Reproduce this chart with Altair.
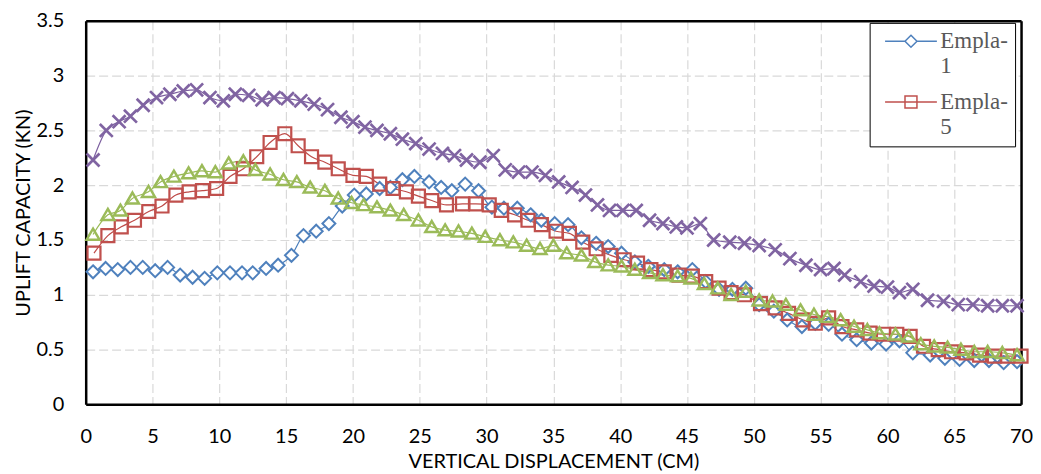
import altair as alt
import pandas as pd

SERIES = ["Empla-1", "Empla-5", "Empla-9", "Empla-13"]

X1 = [0.55, 1.49, 2.4, 3.35, 4.27, 5.2, 6.13, 7.07, 8.0, 8.9, 9.85, 10.8, 11.7, 12.5, 13.5, 14.4, 15.4, 16.3, 17.25, 18.2,
      19.2, 20.1, 21.0, 22.0, 22.8, 23.7, 24.6, 25.7, 26.6, 27.4, 28.4, 29.4, 30.4, 31.3, 32.3, 33.3, 34.1, 35.1, 36.1,
      37.1, 38.2, 39.1, 40.1, 41.1, 42.1, 43.3, 44.3, 45.4, 46.4, 47.4, 48.4, 49.4, 50.4, 51.5, 52.5, 53.6, 54.6, 55.6,
      56.6, 57.7, 58.8, 59.9, 60.9, 61.9, 63.2, 64.3, 65.4, 66.5, 67.6, 68.7, 69.7]
Y1 = [1.21, 1.24, 1.23, 1.25, 1.25, 1.22, 1.25, 1.18, 1.16, 1.15, 1.20, 1.20, 1.20, 1.20, 1.24, 1.27, 1.36, 1.54, 1.58, 1.65,
      1.81, 1.91, 1.92, 1.97, 1.98, 2.05, 2.08, 2.03, 1.98, 1.95, 2.01, 1.95, 1.80, 1.79, 1.79, 1.73, 1.68, 1.65, 1.64,
      1.52, 1.47, 1.44, 1.38, 1.30, 1.26, 1.23, 1.21, 1.23, 1.12, 1.05, 1.05, 1.06, 0.91, 0.85, 0.77, 0.71, 0.74, 0.73,
      0.64, 0.59, 0.56, 0.55, 0.58, 0.47, 0.45, 0.42, 0.41, 0.40, 0.40, 0.38, 0.39]

X5 = [0.62, 1.66, 2.66, 3.65, 4.72, 5.71, 6.75, 7.74, 8.74, 9.8, 10.8, 11.8, 12.8, 13.8, 14.9, 15.9, 16.9, 17.9, 18.9, 20.0,
      21.0, 22.0, 23.0, 24.0, 24.9, 25.9, 27.0, 28.2, 29.2, 30.2, 31.1, 32.1, 33.1, 34.1, 35.2, 36.2, 37.2, 38.2, 39.3,
      40.3, 41.3, 42.3, 43.3, 44.4, 45.4, 46.4, 47.4, 48.3, 49.3, 50.5, 51.6, 52.6, 53.7, 54.6, 55.6, 56.6, 57.7, 58.7,
      59.7, 60.7, 61.7, 62.7, 63.8, 64.8, 65.9, 66.9, 68.0, 69.0, 70.0]
Y5 = [1.38, 1.54, 1.62, 1.68, 1.76, 1.81, 1.91, 1.94, 1.95, 1.97, 2.08, 2.15, 2.26, 2.39, 2.47, 2.36, 2.26, 2.21, 2.15, 2.09,
      2.08, 2.01, 1.97, 1.94, 1.90, 1.86, 1.82, 1.83, 1.83, 1.82, 1.77, 1.73, 1.68, 1.64, 1.58, 1.56, 1.48, 1.42, 1.36,
      1.32, 1.29, 1.23, 1.21, 1.18, 1.17, 1.12, 1.06, 1.02, 1.00, 0.92, 0.88, 0.83, 0.77, 0.74, 0.79, 0.71, 0.68, 0.65,
      0.64, 0.64, 0.62, 0.53, 0.50, 0.48, 0.47, 0.45, 0.44, 0.44, 0.44]

X9 = [0.55, 1.66, 2.6, 3.5, 4.7, 5.6, 6.6, 7.7, 8.7, 9.7, 10.7, 11.8, 12.7, 13.8, 14.8, 15.8, 16.8, 17.9, 18.9, 19.9,
      20.8, 21.8, 22.8, 23.8, 24.9, 25.9, 26.9, 27.9, 28.9, 29.9, 31.0, 32.0, 33.0, 34.0, 35.0, 36.0, 37.1, 38.1, 39.1,
      40.1, 41.1, 42.2, 43.2, 44.3, 45.3, 46.3, 47.3, 48.3, 49.4, 50.4, 51.4, 52.4, 53.5, 54.5, 55.5, 56.5, 57.5, 58.5,
      59.4, 60.6, 61.6, 62.5, 63.5, 64.5, 65.5, 66.5, 67.5, 68.6, 69.7]
Y9 = [1.55, 1.73, 1.77, 1.88, 1.94, 2.03, 2.08, 2.11, 2.13, 2.12, 2.20, 2.22, 2.14, 2.10, 2.05, 2.03, 1.98, 1.95, 1.88, 1.84,
      1.82, 1.80, 1.77, 1.73, 1.68, 1.62, 1.59, 1.58, 1.56, 1.53, 1.50, 1.48, 1.45, 1.42, 1.45, 1.38, 1.36, 1.30, 1.27,
      1.26, 1.23, 1.20, 1.18, 1.17, 1.15, 1.10, 1.06, 1.00, 1.03, 0.95, 0.94, 0.91, 0.86, 0.82, 0.80, 0.77, 0.71, 0.68,
      0.65, 0.64, 0.62, 0.55, 0.53, 0.52, 0.50, 0.48, 0.48, 0.47, 0.45]

X13 = [0.55, 1.54, 2.5, 3.35, 4.3, 5.3, 6.3, 7.3, 8.3, 9.3, 10.3, 11.2, 12.2, 13.2, 14.1, 15.1, 16.1, 17.1, 18.1, 19.1,
       20.0, 20.9, 21.8, 22.8, 23.7, 24.7, 25.7, 26.7, 27.6, 28.5, 29.5, 30.5, 31.4, 32.4, 33.4, 34.4, 35.4, 36.4, 37.4,
       38.3, 39.2, 40.2, 41.2, 42.2, 43.2, 44.2, 45.0, 46.0, 47.0, 48.2, 49.3, 50.4, 51.6, 52.7, 53.9, 55.0, 56.0, 56.8,
       58.0, 59.0, 60.0, 60.9, 61.9, 63.0, 64.2, 65.3, 66.4, 67.5, 68.6, 69.7]
Y13 = [2.23, 2.50, 2.58, 2.63, 2.73, 2.80, 2.83, 2.86, 2.87, 2.80, 2.77, 2.83, 2.82, 2.78, 2.80, 2.79, 2.77, 2.74, 2.69, 2.62,
       2.58, 2.53, 2.50, 2.47, 2.42, 2.38, 2.33, 2.29, 2.27, 2.23, 2.21, 2.27, 2.14, 2.12, 2.12, 2.09, 2.03, 1.98, 1.91,
       1.82, 1.77, 1.77, 1.77, 1.68, 1.65, 1.62, 1.61, 1.65, 1.50, 1.48, 1.47, 1.45, 1.41, 1.33, 1.27, 1.23, 1.24, 1.18,
       1.12, 1.08, 1.07, 1.02, 1.05, 0.95, 0.94, 0.91, 0.91, 0.90, 0.90, 0.90]

X_TICKS = list(range(0, 71, 5))
Y_TICKS = [0, 0.5, 1, 1.5, 2, 2.5, 3, 3.5]

MARKER_COLORS = ["#4F81BD", "#C0504D", "#9BBB59", "#8064A2"]
LINE_COLORS = ["#4A7EBB", "#BE4B48", "#98B954", "#7D60A0"]
MARKER_FILLS = ["white", "transparent", "transparent", "transparent"]
MARKER_STROKES = [2.0, 2.7, 2.4, 2.2]
MARKER_PATHS = [
    "M0,-1L1,0L0,1L-1,0Z",
    "M-1,-1H1V1H-1Z",
    "M0,-0.9L1,0.8H-1Z",
    "M-1,-1L1,1M-1,1L1,-1",
]
# legend symbols: line segment with the marker in its middle
LEGEND_PATHS = [
    "M-0.375,0H2.125M3.625,0H6.125M2.875,-0.75L3.625,0L2.875,0.75L2.125,0Z",
    "M-0.375,0H6.125M2.125,-0.75H3.625V0.75H2.125Z",
    "M-0.375,0H6.125M2.875,-0.7L3.675,0.6H2.075Z",
    "M-0.375,0H6.125M2.175,-0.7L3.575,0.7M2.175,0.7L3.575,-0.7",
]

rows = []
for name, xs, ys in zip(SERIES, [X1, X5, X9, X13], [Y1, Y5, Y9, Y13]):
    for i, (xv, yv) in enumerate(zip(xs, ys)):
        rows.append({"series": name, "idx": i, "x": xv, "y": yv})
df = pd.DataFrame(rows)

FONT = "Lato"
X_SCALE = alt.Scale(domain=[0, 70], nice=False)
Y_SCALE = alt.Scale(domain=[0, 3.5], nice=False)

x_main = alt.X("x:Q", scale=X_SCALE,
               axis=alt.Axis(values=X_TICKS, title="VERTICAL DISPLACEMENT (CM)", format="~g",
                             labelFlush=False, labelPadding=22, titlePadding=5, titleFontSize=20))
y_main = alt.Y("y:Q", scale=Y_SCALE,
               axis=alt.Axis(values=Y_TICKS, title="UPLIFT CAPACITY (KN)", format="~g",
                             labelFlush=False, labelPadding=22, titlePadding=2, titleFontSize=20))
x_none = alt.X("x:Q", scale=X_SCALE, axis=None)
y_none = alt.Y("y:Q", scale=Y_SCALE, axis=None)
x_top = alt.X("x:Q", scale=X_SCALE,
              axis=alt.Axis(orient="top", labels=False, title=None, grid=False, values=X_TICKS))
y_right = alt.Y("y:Q", scale=Y_SCALE,
                axis=alt.Axis(orient="right", labels=False, title=None, grid=False, values=Y_TICKS))

base = alt.Chart(df)

lines = base.mark_line(strokeWidth=1.2, interpolate="monotone").encode(
    x=x_main, y=y_main,
    color=alt.Color("series:N", scale=alt.Scale(domain=SERIES, range=LINE_COLORS), legend=None),
    order="idx:Q",
)

points = base.mark_point(filled=False, opacity=1, size=169).encode(
    x=x_none, y=y_none,
    stroke=alt.Stroke("series:N", scale=alt.Scale(domain=SERIES, range=MARKER_COLORS), legend=None),
    fill=alt.Fill("series:N", scale=alt.Scale(domain=SERIES, range=MARKER_FILLS), legend=None),
    shape=alt.Shape("series:N", scale=alt.Scale(domain=SERIES, range=MARKER_PATHS), legend=None),
    strokeWidth=alt.StrokeWidth("series:N", scale=alt.Scale(domain=SERIES, range=MARKER_STROKES), legend=None),
)

leg = alt.Legend(
    title=None, orient="none", legendX=787, legendY=2, values=SERIES[:2],
    labelExpr="[slice(datum.label, 0, 6) + '\u00a0', slice(datum.label, 6)]",
    labelFont="Liberation Serif", labelFontSize=23, labelColor="#595959",
    labelOffset=41, labelLimit=300, symbolSize=256, symbolStrokeWidth=1.5,
    strokeColor="black", fillColor="white", padding=7, rowPadding=12,
    labelBaseline="middle",
)

legend_layer = base.transform_filter("datum.x < -100").mark_point(filled=False, opacity=1).encode(
    x=x_top, y=y_right,
    stroke=alt.Stroke("series:N", scale=alt.Scale(domain=SERIES, range=MARKER_COLORS), legend=leg),
    fill=alt.Fill("series:N", scale=alt.Scale(domain=SERIES, range=MARKER_FILLS), legend=leg),
    shape=alt.Shape("series:N", scale=alt.Scale(domain=SERIES, range=LEGEND_PATHS), legend=leg),
)

chart = alt.layer(lines, points, legend_layer).resolve_scale(
    stroke="independent", fill="independent", shape="independent"
).resolve_axis(
    x="independent", y="independent"
).properties(
    width=939, height=385,
    padding={"left": 6, "top": 2, "right": 0, "bottom": 0},
).configure_view(
    strokeWidth=0,
).configure_axis(
    labelFont=FONT, titleFont=FONT, labelFontSize=20,
    labelColor="black", titleColor="black", titleFontWeight="normal",
    ticks=False, domain=True, domainColor="black", domainWidth=2.5,
    grid=True, gridColor="#D9D9D9", gridDash=[9, 4], gridWidth=1.2,
)

chart.save("out.html", embed_options={"renderer": "svg", "actions": False})
